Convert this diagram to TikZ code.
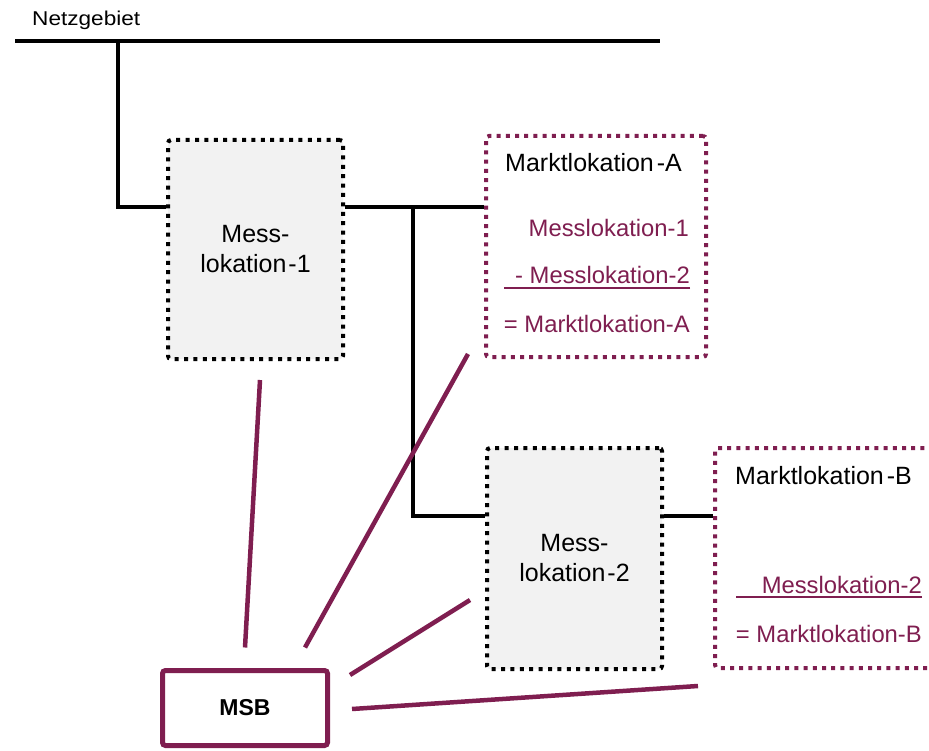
\documentclass[tikz,border=0pt]{standalone}
\usepackage{fontspec}
\setmainfont{Liberation Sans}
\usepackage{graphicx}
\definecolor{msbpurple}{RGB}{127,30,80}
\definecolor{boxgray}{RGB}{242,242,242}
\begin{document}
\begin{tikzpicture}[x=1pt,y=-1pt,
  wire/.style={line width=4pt},
  link/.style={line width=4.5pt, draw=msbpurple},
  messbox/.style={draw=black, fill=boxgray, line width=4pt, dash pattern=on 4pt off 5.4pt,
    rounded corners=3pt, minimum width=175pt, minimum height=219pt, align=center,
    font=\fontsize{25}{30}\selectfont, inner sep=0pt},
  marktbox/.style={draw=msbpurple, fill=white, line width=4pt, dash pattern=on 4pt off 5.2pt,
    rounded corners=3pt, minimum height=220pt, inner sep=0pt},
  title/.style={font=\fontsize{25}{30}\selectfont, anchor=base west, inner sep=0pt},
  calcline/.style={font=\fontsize{23.8}{28}\selectfont, text=msbpurple, anchor=base east, inner sep=0pt},
  underl/.style={draw=msbpurple, line width=2.5pt},
]
\useasboundingbox (0,0) rectangle (929,751);
\clip (0,0) rectangle (929,751);

% grid area bus
\node[anchor=base west, inner sep=0pt, font=\fontsize{20}{23}\selectfont] (netz) at (32,26) {\scalebox{1.13}[1]{Netzgebiet}};
\coordinate (busL) at (15,41);
\coordinate (busR) at (660,41);
\coordinate (tap) at (118,41);
\draw[wire] (busL) -- (busR);

% metering and market locations
\node[messbox] (mess1) at (255.5,249.5) {Mess-\\lokation\kern2pt-1};
\node[messbox, minimum height=221pt] (mess2) at (574.5,558.5) {Mess-\\lokation\kern2pt-2};
\node[marktbox, minimum width=220pt, minimum height=221pt] (mlA) at (596,246.5) {};
\node[marktbox, minimum width=240pt] (mlB) at (835,558) {};
\node[draw=msbpurple, line width=5pt, rounded corners=3pt, minimum width=165pt, minimum height=75pt,
  font=\fontsize{23}{26}\selectfont\bfseries] (msb) at (245,708) {MSB};

% grid connections
\coordinate (branch) at (413,207);
\draw[wire] (tap) |- ([yshift=42.5pt]mess1.west);
\draw[wire] ([yshift=42.5pt]mess1.east) -- ([yshift=39.5pt]mlA.west);
\draw[wire] (branch) |- ([yshift=42.5pt]mess2.west);
\draw[wire] ([yshift=42.5pt]mess2.east) -- ([yshift=42pt]mlB.west);

% MSB responsibilities
\draw[link] ([xshift=4.5pt,yshift=-19pt]mess1.south) -- ([yshift=20.5pt]msb.north);
\draw[link] ([xshift=-16pt,yshift=5pt]mlA.south west) -- ([xshift=60pt,yshift=20.5pt]msb.north);
\draw[link] ([xshift=-15pt,yshift=-41.5pt]mess2.west) -- ([xshift=20pt,yshift=33pt]msb.east);
\draw[link] ([xshift=-15pt,yshift=-16pt]mlB.south west) -- ([xshift=22pt,yshift=-1pt]msb.east);

% balance of Marktlokation-A
\node[title] (tA) at (505,172) {Marktlokation\kern3pt-A};
\node[calcline] (a1) at (689,237) {Messlokation-1};
\node[calcline] (a2) at (690,284) {- Messlokation-2};
\draw[underl] ([yshift=-4pt]a2.base east) -- ++(-186,0);
\node[calcline] (a3) at (690,333) {= Marktlokation-A};

% balance of Marktlokation-B
\node[title] (tB) at (735,484) {Marktlokation\kern3pt-B};
\node[calcline] (b1) at (922,593) {Messlokation-2};
\draw[underl] ([yshift=-4pt]b1.base east) -- ++(-186,0);
\node[calcline] (b2) at (922,642) {= Marktlokation-B};
\end{tikzpicture}
\end{document}
